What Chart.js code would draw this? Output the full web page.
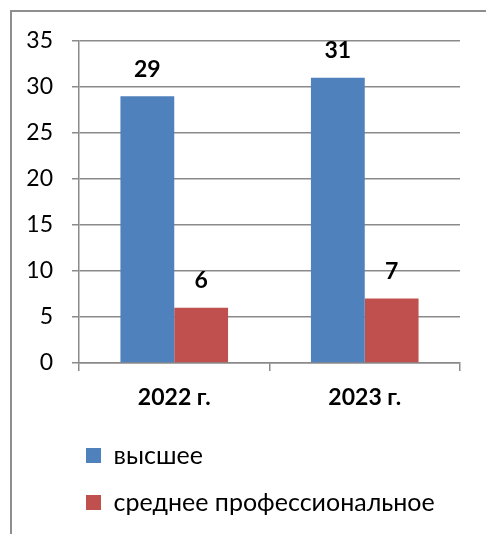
<!DOCTYPE html>
<html><head><meta charset="utf-8">
<script src="https://cdn.jsdelivr.net/npm/chart.js@4.4.1/dist/chart.umd.min.js"></script>
<style>
html,body{margin:0;padding:0;overflow:hidden;background:#fff;}
#wrap{position:relative;width:486px;height:534px;overflow:hidden;}
#frame{position:absolute;left:10px;top:10px;width:600px;height:600px;border:2px solid #8e8e8e;box-sizing:border-box;pointer-events:none;}
canvas{position:absolute;left:0;top:0;}
</style></head>
<body><div id="wrap"><canvas id="c" width="486" height="534"></canvas><div id="frame"></div></div>
<script>
const categories = ['2022 г.', '2023 г.'];
const seriesNames = ['высшее', 'среднее профессиональное'];
const higherValues = [29, 31];
const vocationalValues = [6, 7];
const yTickValues = [0, 5, 10, 15, 20, 25, 30, 35];
const seriesColors = ['#4F81BD', '#C0504D'];

const FONT = 'Lato';
const GRID = '#8a8a8a';

const valueLabels = {
  id: 'valueLabels',
  afterDatasetsDraw(chart) {
    const ctx = chart.ctx;
    ctx.save();
    ctx.font = 'bold 23px ' + FONT;
    ctx.fillStyle = '#000';
    ctx.textAlign = 'center';
    ctx.textBaseline = 'middle';
    chart.data.datasets.forEach((ds, i) => {
      chart.getDatasetMeta(i).data.forEach((bar, j) => {
        ctx.fillText(String(ds.data[j]), bar.x, bar.y - 27);
      });
    });
    ctx.restore();
  }
};

// shift the legend block so its first column lines up under the plot
const legendShift = {
  id: 'legendShift',
  afterLayout(chart) {
    if (chart.legend) chart.legend.left = 64;
  }
};

new Chart(document.getElementById('c'), {
  type: 'bar',
  data: {
    labels: categories,
    datasets: [
      { label: seriesNames[0], data: higherValues, backgroundColor: seriesColors[0], borderWidth: 0,
        categoryPercentage: 0.565, barPercentage: 1 },
      { label: seriesNames[1], data: vocationalValues, backgroundColor: seriesColors[1], borderWidth: 0,
        categoryPercentage: 0.565, barPercentage: 1 }
    ]
  },
  options: {
    responsive: false,
    devicePixelRatio: 1,
    animation: false,
    layout: { padding: { left: 20, right: 26, top: 41, bottom: 9 } },
    plugins: {
      legend: {
        position: 'bottom',
        align: 'start',
        labels: {
          boxWidth: 15, boxHeight: 15, padding: 22,
          color: '#000',
          font: { family: FONT, size: 25 }
        }
      },
      tooltip: { enabled: false }
    },
    scales: {
      y: {
        min: 0, max: 35,
        afterBuildTicks: s => { s.ticks = yTickValues.map(v => ({ value: v })); },
        afterFit: s => { s.width = 59; },
        ticks: { color: '#000', padding: 19, font: { family: FONT, size: 23 } },
        grid: { color: GRID, lineWidth: 1.5, tickLength: 7 },
        border: { color: GRID, width: 1.5 }
      },
      x: {
        afterFit: s => { s.height = 58; },
        ticks: { color: '#000', padding: 13, font: { family: FONT, size: 23, weight: 'bold' } },
        grid: { drawOnChartArea: false, color: GRID, lineWidth: 1.5, tickLength: 8 },
        border: { color: GRID, width: 1.5 }
      }
    }
  },
  plugins: [valueLabels, legendShift]
});
</script>
</body></html>
